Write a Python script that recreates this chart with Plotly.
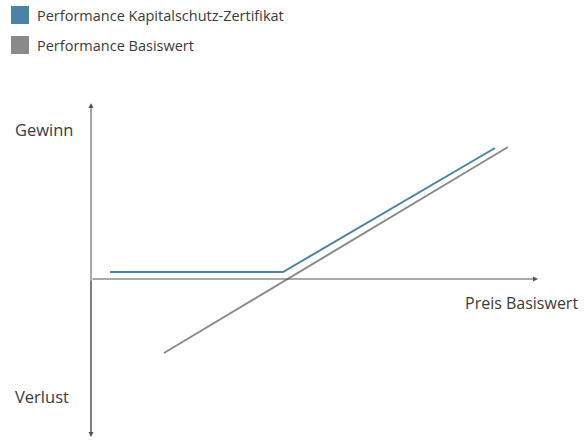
import plotly.graph_objects as go

# Schematic payoff data (abstract units: x = price of underlying, y = performance)
cert_x = [19, 192, 404]
cert_y = [7, 7, 131]
base_x = [73, 417]
base_y = [-74, 132]

series_names = ["Performance Kapitalschutz-Zertifikat", "Performance Basiswert"]
series_colors = ["#4a83a6", "#8a8a8a"]
axis_labels = {"gain": "Gewinn", "loss": "Verlust", "x": "Preis Basiswert"}

W, H = 585, 441
FONT = "Open Sans, Noto Sans, sans-serif"
TEXT_COLOR = "#3a3a3a"

fig = go.Figure()
fig.add_trace(go.Scatter(x=cert_x, y=cert_y, mode="lines",
                         line=dict(color=series_colors[0], width=2),
                         name=series_names[0], showlegend=False, hoverinfo="skip"))
fig.add_trace(go.Scatter(x=base_x, y=base_y, mode="lines",
                         line=dict(color=series_colors[1], width=2),
                         name=series_names[1], showlegend=False, hoverinfo="skip"))

annotations = []
shapes = []

# axis arrows (data coords)
axis_color = "#555555"
annotations.append(dict(x=447, y=0, ax=0, ay=0, xref="x", yref="y", axref="x", ayref="y",
                        showarrow=True, arrowhead=2, arrowsize=1, arrowwidth=1,
                        arrowcolor=axis_color, text=""))
annotations.append(dict(x=0, y=176, ax=0, ay=-158, xref="x", yref="y", axref="x", ayref="y",
                        showarrow=True, arrowhead=2, arrowsize=1, arrowwidth=1,
                        arrowcolor=axis_color, text=""))
annotations.append(dict(x=0, y=-158, ax=0, ay=0, xref="x", yref="y", axref="x", ayref="y",
                        showarrow=True, arrowhead=2, arrowsize=1, arrowwidth=1,
                        arrowcolor=axis_color, text=""))

def px(x): return x / W
def py(y): return 1 - y / H

# manual legend
legend_rows = [15, 45]
for name, color, yc in zip(series_names, series_colors, legend_rows):
    shapes.append(dict(type="rect", xref="paper", yref="paper",
                       x0=px(11), x1=px(29), y0=py(yc + 9), y1=py(yc - 9),
                       fillcolor=color, line=dict(width=0)))
    annotations.append(dict(x=px(35), y=py(yc), xref="paper", yref="paper",
                            text=name, showarrow=False, xanchor="left", yanchor="middle",
                            font=dict(family=FONT, size=14.5, color=TEXT_COLOR)))

# axis labels
annotations.append(dict(x=px(13), y=py(129), xref="paper", yref="paper", text=axis_labels["gain"],
                        showarrow=False, xanchor="left", yanchor="middle",
                        font=dict(family=FONT, size=16.5, color=TEXT_COLOR)))
annotations.append(dict(x=px(13), y=py(396), xref="paper", yref="paper", text=axis_labels["loss"],
                        showarrow=False, xanchor="left", yanchor="middle",
                        font=dict(family=FONT, size=16.5, color=TEXT_COLOR)))
annotations.append(dict(x=px(580), y=py(303), xref="paper", yref="paper", text=axis_labels["x"],
                        showarrow=False, xanchor="right", yanchor="middle",
                        font=dict(family=FONT, size=16, color=TEXT_COLOR)))

fig.update_layout(
    width=W, height=H,
    margin=dict(l=0, r=0, t=0, b=0),
    paper_bgcolor="white", plot_bgcolor="white",
    xaxis=dict(range=[-91, 494], visible=False, fixedrange=True),
    yaxis=dict(range=[-162, 279], visible=False, fixedrange=True),
    annotations=annotations, shapes=shapes,
    showlegend=False,
)

fig.write_html("out.html", config={"displayModeBar": False},
               post_script="document.body.style.margin='0';document.body.style.overflow='hidden';")
